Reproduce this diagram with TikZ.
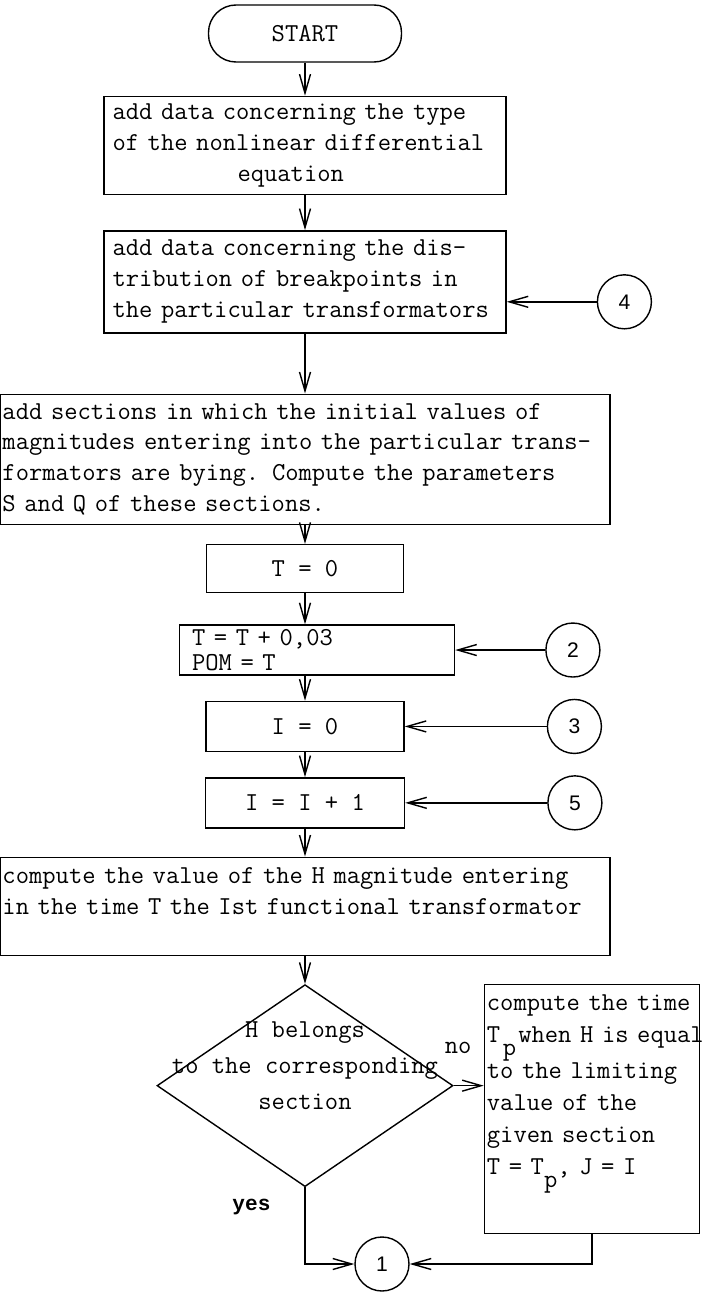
\documentclass[tikz,border=0pt]{standalone}
\usepackage{fontspec}
\setmonofont[WordSpace={1,0,0}]{Latin Modern Mono}
\setsansfont{Liberation Sans}
\newfontfamily\boldmono{Liberation Mono}
\usetikzlibrary{positioning, arrows.meta, shapes.geometric}

\begin{document}
\begin{tikzpicture}[->,>={Straight Barb[length=0.38cm,width=0.22cm]},thick,
    font=\ttfamily\fontsize{14.7}{17.6}\selectfont,
    start node/.style={draw,rounded corners=0.55cm,minimum width=3.86cm,minimum height=1.14cm},
    block node/.style={draw,rectangle,inner ysep=0.08cm},
    link node/.style={circle,draw,minimum size=1.08cm,inner sep=0pt,font=\sffamily\fontsize{12}{14}\selectfont},
    test node/.style={diamond,draw,minimum width=5.92cm,minimum height=4.04cm,inner sep=0pt}]

\useasboundingbox (0,0) rectangle (14.5,-25.84);

\node[start node] (start) at (6.1,-0.67) {START};
\node[block node,below=0.66cm of start,minimum width=8.04cm,minimum height=1.96cm,text width=7.7cm,inner xsep=0.17cm,align=left] (type) {add data concerning the type\\of the nonlinear differential\\\hspace*{2.5cm}equation};
\node[block node,below=0.7cm of type,minimum width=8.04cm,minimum height=2.04cm,text width=7.7cm,inner xsep=0.17cm,align=left] (breaks) {add data concerning the dis-\\tribution of breakpoints in\\the particular transformators};
\node[block node,below=1.2cm of breaks,minimum width=12.2cm,minimum height=2.6cm,text width=12.1cm,inner xsep=0.05cm,align=left] (sections) {add sections in which the initial values of\\\mbox{magnitudes entering into the particular trans-}\\formators are bying. Compute the parameters\\S and Q of these sections.};
\node[block node,below=0.38cm of sections,minimum width=3.94cm,minimum height=0.96cm] (tzero) {T = 0};
\node[block node,below=0.62cm of tzero,xshift=0.24cm,minimum width=5.5cm,minimum height=1cm,text width=5cm,inner xsep=0.25cm,inner ysep=0.04cm,align=left,font=\ttfamily\fontsize{14.7}{14.5}\selectfont] (tstep) {T = T + 0,03\\POM = T};
\node[block node,below=0.5cm of tstep.south -| tzero,anchor=north,minimum width=3.96cm,minimum height=1cm] (izero) {I = 0};
\node[block node,below=0.5cm of izero,minimum width=3.98cm,minimum height=1cm] (istep) {I = I + 1};
\node[block node,below=0.56cm of istep,minimum width=12.2cm,minimum height=1.96cm,text width=12.1cm,inner xsep=0.05cm,align=left] (hval) {compute the value of the H magnitude entering\\in the time T the Ist functional transformator\\~};
\node[test node,below=0.56cm of hval,label={[align=center,yshift=0.4cm,font=\ttfamily\fontsize{14.7}{20.5}\selectfont]center:{H belongs\\to the corresponding\\section}}] (test) {};
\node[block node,right=0.6cm of test,yshift=-0.47cm,minimum width=4.3cm,minimum height=4.98cm,text width=4.2cm,inner xsep=0.05cm,align=left,font=\ttfamily\fontsize{14.7}{18.2}\selectfont] (tcalc) {\mbox{compute the time}\\\mbox{T\rlap{\raisebox{-0.5em}{\hspace{0.1em}p}}\hspace{0.7em}when H is equal}\\to the limiting\\value of the\\given section\\T = T\raisebox{-0.5em}{p}, J = I\\[0.35cm]~};

\node[link node,right=1.8cm of breaks,yshift=-0.4cm] (c4) {4};
\node[link node,right=1.8cm of tstep] (c2) {2};
\node[link node,right=2.84cm of izero] (c3) {3};
\node[link node,right=2.84cm of istep] (c5) {5};
\node[link node] (c1) at (7.64,-25.28) {1};

\path (start) edge (type)
      (type) edge (breaks)
      (breaks) edge (sections)
      (sections) edge (tzero)
      (tzero) edge (tzero |- tstep.north)
      (tstep.south -| izero) edge (izero)
      (izero) edge (istep)
      (istep) edge (hval)
      (hval) edge (test)
      (c4) edge (c4 -| breaks.east)
      (c2) edge (tstep)
      (c3) edge (izero)
      (c5) edge (istep)
      (test) edge node[pos=0.15,above=0.5cm]{no} (test -| tcalc.west);

\draw (test.south) |- node[pos=0.125,left=0.56cm,font=\boldmono\bfseries\fontsize{12}{14}\selectfont]{yes} (c1);
\draw (tcalc.south) |- (c1);
\end{tikzpicture}
\end{document}
